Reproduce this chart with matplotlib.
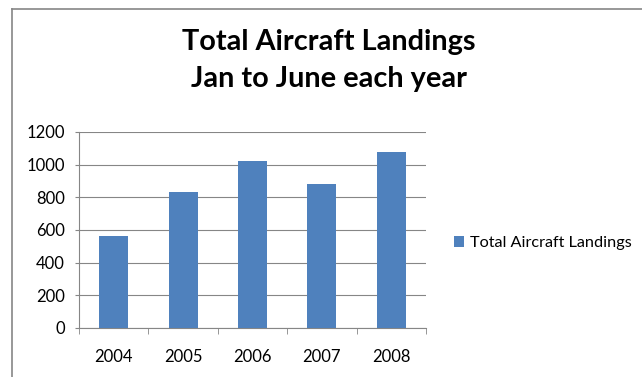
import numpy as np
import matplotlib
matplotlib.use("Agg")
import matplotlib.pyplot as plt
from matplotlib.lines import Line2D

years = ["2004", "2005", "2006", "2007", "2008"]
landings = [563, 833, 1022, 882, 1078]
yticks = [0, 200, 400, 600, 800, 1000, 1200]

plt.rcParams["font.family"] = ["Lato", "DejaVu Sans"]

fig = plt.figure(figsize=(6.42, 3.77), dpi=100)
ax = fig.add_axes([0.123, 0.13, 0.5406, 0.52])

x = np.arange(len(years))
ax.bar(x, landings, width=0.42, color="#4F81BD", label="Total Aircraft Landings", zorder=3)

ax.set_xlim(-0.5, len(years) - 0.5)
ax.set_ylim(0, 1200)
ax.set_yticks(yticks)
ax.set_yticklabels([str(v) for v in yticks], fontsize=12)
ax.set_xticks(x)
ax.set_xticklabels(years, fontsize=12)
ax.tick_params(axis="x", length=0, pad=15)
ax.set_xticks(np.arange(-0.5, len(years)), minor=True)
ax.tick_params(axis="x", which="minor", length=4, color="#868686")
ax.tick_params(axis="y", length=3, color="#868686", pad=7)

ax.grid(axis="y", color="#868686", linewidth=0.8, zorder=0)
for s in ["top", "right"]:
    ax.spines[s].set_visible(False)
for s in ["left", "bottom"]:
    ax.spines[s].set_color("#868686")
    ax.spines[s].set_linewidth(0.8)

fig.text(0.512, 0.888, "Total Aircraft Landings", ha="center", va="center",
         fontsize=20.8, fontweight="bold")
fig.text(0.512, 0.79, "Jan to June each year", ha="center", va="center",
         fontsize=20.8, fontweight="bold")

ax.legend(loc="center left", bbox_to_anchor=(0.684, 0.355), bbox_transform=fig.transFigure,
          frameon=False, fontsize=11.7, handlelength=0.6, handleheight=0.6,
          handletextpad=0.4)

# chart area border (top and left edge)
fig.add_artist(Line2D([12 / 642, 1], [1 - 9 / 377, 1 - 9 / 377], color="#868686", linewidth=1.2))
fig.add_artist(Line2D([12 / 642, 12 / 642], [0, 1 - 9 / 377], color="#868686", linewidth=1.2))

fig.savefig("out.png", dpi=100)
